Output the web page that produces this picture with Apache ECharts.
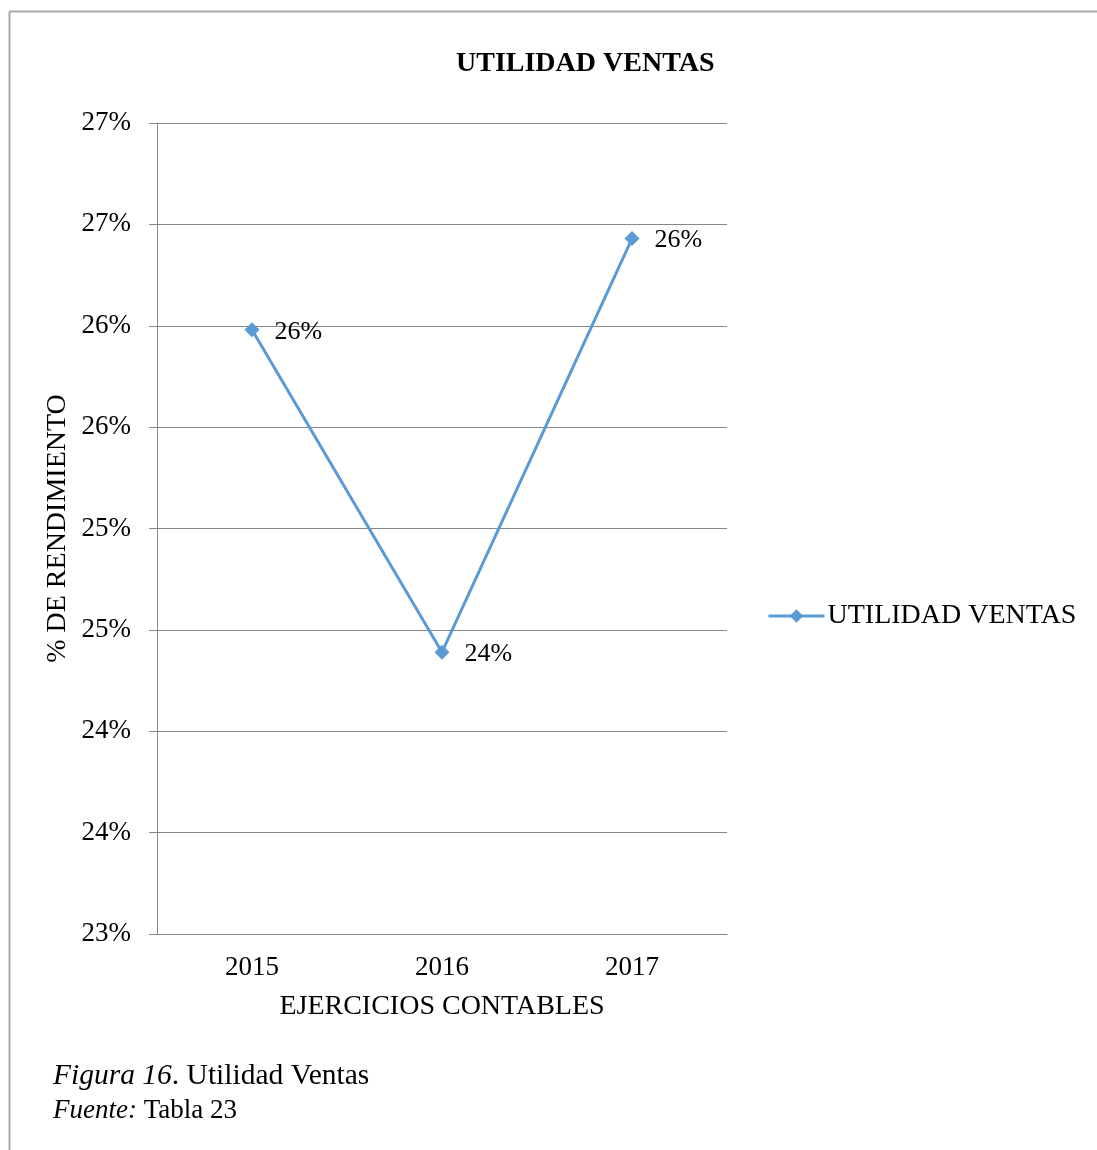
<!DOCTYPE html>
<html>
<head>
<meta charset="utf-8">
<script src="https://cdn.jsdelivr.net/npm/echarts@6/dist/echarts.min.js"></script>
<style>
  html, body { margin: 0; padding: 0; background: #fff; }
  #chart { width: 1097px; height: 1150px; }
</style>
</head>
<body>
<div id="chart"></div>
<script>
// datos
const years = ['2015', '2016', '2017']
const utilidadVentas = [25.98, 24.39, 26.43]
const serieNombre = 'UTILIDAD VENTAS'

const font = '"Liberation Serif", "Times New Roman", serif'
const chart = echarts.init(document.getElementById('chart'))

const option = {
    backgroundColor: '#fff',
    textStyle: { fontFamily: font, color: '#000' },
    title: {
        text: 'UTILIDAD VENTAS',
        left: 451,
        top: 45,
        textStyle: { fontFamily: font, fontSize: 28, fontWeight: 'bold', color: '#000' }
    },
    legend: {
        data: [serieNombre],
        left: 762,
        top: 597,
        itemWidth: 56,
        itemHeight: 17,
        itemGap: 4,
        lineStyle: { width: 3 },
        textStyle: { fontFamily: font, fontSize: 28, color: '#000', padding: [0, 0, 0, -2] }
    },
    grid: { left: 157, right: 370, top: 123, bottom: 216 },
    xAxis: {
        type: 'category',
        data: years,
        boundaryGap: true,
        name: 'EJERCICIOS CONTABLES',
        nameLocation: 'middle',
        nameGap: 59,
        nameMoveOverlap: false,
        nameTextStyle: { fontFamily: font, fontSize: 28, color: '#000' },
        axisLine: { lineStyle: { color: '#868686', width: 1 } },
        axisTick: { show: false },
        axisLabel: { fontFamily: font, fontSize: 27, color: '#000', margin: 20 }
    },
    yAxis: {
        type: 'value',
        min: 23,
        max: 27,
        interval: 0.5,
        name: '% DE RENDIMIENTO',
        nameLocation: 'middle',
        nameGap: 85,
        nameMoveOverlap: false,
        nameRotate: 90,
        nameTextStyle: { fontFamily: font, fontSize: 28, color: '#000' },
        axisLine: { show: true, lineStyle: { color: '#868686', width: 1 } },
        axisTick: { show: true, length: 8, lineStyle: { color: '#868686' } },
        axisLabel: {
            fontFamily: font, fontSize: 27, color: '#000', margin: 26,
            formatter: v => Math.round(v) + '%'
        },
        splitLine: { lineStyle: { color: '#868686', width: 1 } }
    },
    series: [
        {
            name: serieNombre,
            type: 'line',
            data: utilidadVentas,
            symbol: 'diamond',
            symbolSize: 15,
            lineStyle: { color: '#5B9BD5', width: 3 },
            itemStyle: { color: '#5B9BD5' },
            label: {
                show: true,
                position: 'right',
                distance: 15,
                offset: [0, 2],
                fontFamily: font,
                fontSize: 26,
                color: '#000',
                formatter: p => Math.round(p.value) + '%'
            },
            animation: false
        }
    ],
    graphic: [
        { type: 'line', shape: { x1: 9.5, y1: 11.5, x2: 1097, y2: 11.5 }, style: { stroke: '#aaaaaa', lineWidth: 2 } },
        { type: 'line', shape: { x1: 9.5, y1: 11.5, x2: 9.5, y2: 1150 }, style: { stroke: '#aaaaaa', lineWidth: 2 } },
        {
            type: 'text', left: 53, top: 1061,
            style: {
                text: '{i|Figura 16}. Utilidad Ventas',
                font: '29.5px ' + font,
                fill: '#000',
                rich: { i: { fontStyle: 'italic', fontSize: 29.5, fontFamily: font } }
            }
        },
        {
            type: 'text', left: 53, top: 1097,
            style: {
                text: '{i|Fuente:} Tabla 23',
                font: '27px ' + font,
                fill: '#000',
                rich: { i: { fontStyle: 'italic', fontSize: 27, fontFamily: font } }
            }
        }
    ]
}

chart.setOption(option)

window.addEventListener('resize', () => {
    chart.resize()
})
</script>
</body>
</html>
